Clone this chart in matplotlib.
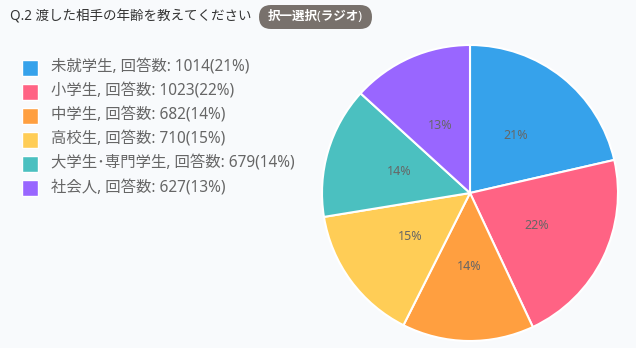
import matplotlib
matplotlib.use("Agg")
import matplotlib.pyplot as plt
from matplotlib.patches import FancyBboxPatch, Rectangle

FAM = ['Noto Sans', 'Noto Sans CJK JP', 'DejaVu Sans']
plt.rcParams['font.family'] = FAM

categories = ["未就学生", "小学生", "中学生", "高校生", "大学生･専門学生", "社会人"]
counts = [1014, 1023, 682, 710, 679, 627]
percents = [21, 22, 14, 15, 14, 13]
colors = ["#36A2EB", "#FF6384", "#FF9F40", "#FFCD56", "#4BC0C0", "#9966FF"]
title = "Q.2 渡した相手の年齢を教えてください"
badge = "択一選択(ラジオ)"

W, H = 636, 348
bg = "#F8FAFC"
fig = plt.figure(figsize=(W / 100, H / 100), dpi=100, facecolor=bg)
px = 72 / 100  # points per pixel

# overlay axes in pixel coordinates
ov = fig.add_axes([0, 0, 1, 1])
ov.set_xlim(0, W)
ov.set_ylim(H, 0)
ov.axis("off")

# Title
ov.text(10, 17, title, fontsize=13.5 * px, color="#333333", va="center", ha="left")
# Badge
bx0, bx1, by0, by1 = 259, 372, 5, 29
ov.add_patch(FancyBboxPatch((bx0, by0), bx1 - bx0, by1 - by0,
                            boxstyle="round,pad=0,rounding_size=12",
                            facecolor="#78716C", edgecolor="none"))
ov.text((bx0 + bx1) / 2, 17, badge, fontsize=12.5 * px, color="white",
        fontweight="bold", va="center", ha="center")

# Legend
for i, (c, n, p, col) in enumerate(zip(categories, counts, percents, colors)):
    yc = 67.5 + i * 24.1
    ov.add_patch(Rectangle((22, yc - 8), 16, 16, facecolor=col, edgecolor="white", linewidth=1))
    ov.text(51, yc, f"{c}, 回答数: {n}({p}%)", fontsize=15.4 * px, color="#666666",
            va="center", ha="left")

# Pie
cx, cy, r = 470, 193, 148
ax = fig.add_axes([(cx - r) / W, 1 - (cy + r) / H, 2 * r / W, 2 * r / H])
ax.set_facecolor(bg)
wedges, texts = ax.pie(counts, colors=colors, startangle=90, counterclock=False,
                       wedgeprops=dict(edgecolor="white", linewidth=1.5),
                       labels=[f"{p}%" for p in percents], labeldistance=0.5,
                       textprops=dict(fontsize=12.5 * px, color="#666666", ha="center", va="center"))
ax.set_aspect("equal")
ax.set_xlim(-1, 1)
ax.set_ylim(-1, 1)
ax.axis("off")

fig.savefig("out.png", dpi=100, facecolor=bg)
